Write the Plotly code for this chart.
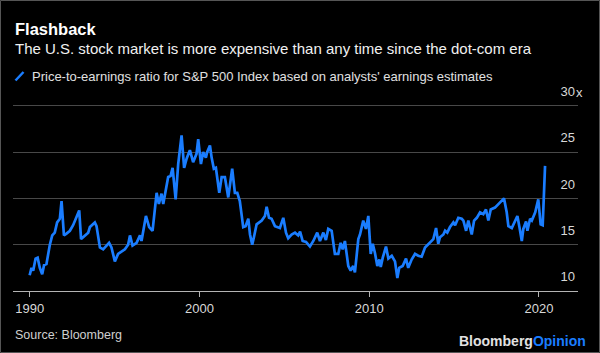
import plotly.graph_objects as go

# ---- data ----
years = [
    1990.00, 1990.11, 1990.21, 1990.35, 1990.47, 1990.60, 1990.74, 1990.85, 1990.99, 1991.19,
    1991.33, 1991.48, 1991.62, 1991.78, 1991.88, 1992.02, 1992.17, 1992.37, 1992.56, 1992.76,
    1992.92, 1993.03, 1993.25, 1993.45, 1993.55, 1993.84, 1993.94, 1994.14, 1994.33, 1994.53,
    1994.68, 1994.82, 1995.02, 1995.21, 1995.42, 1995.61, 1995.80, 1995.91, 1996.06, 1996.30,
    1996.50, 1996.59, 1996.85, 1997.04, 1997.24, 1997.48, 1997.61, 1997.77, 1997.87, 1998.01,
    1998.16, 1998.30, 1998.42, 1998.60, 1998.75, 1998.95, 1999.10, 1999.25, 1999.44, 1999.63,
    1999.83, 1999.93, 2000.09, 2000.22, 2000.38, 2000.46, 2000.62, 2000.72, 2000.85, 2000.97,
    2001.17, 2001.31, 2001.50, 2001.70, 2001.93, 2002.09, 2002.23, 2002.38, 2002.58, 2002.72,
    2002.88, 2002.98, 2003.11, 2003.21, 2003.37, 2003.67, 2003.86, 2003.96, 2004.10, 2004.25,
    2004.45, 2004.74, 2004.94, 2005.10, 2005.23, 2005.43, 2005.63, 2005.82, 2005.93, 2006.08,
    2006.28, 2006.51, 2006.71, 2006.94, 2007.10, 2007.30, 2007.45, 2007.59, 2007.79, 2007.98,
    2008.18, 2008.32, 2008.44, 2008.57, 2008.77, 2008.91, 2009.06, 2009.16, 2009.36, 2009.46,
    2009.65, 2009.81, 2009.95, 2010.09, 2010.21, 2010.34, 2010.48, 2010.60, 2010.68, 2010.80,
    2010.99, 2011.13, 2011.33, 2011.52, 2011.66, 2011.77, 2011.97, 2012.17, 2012.30, 2012.50,
    2012.70, 2012.89, 2013.09, 2013.29, 2013.48, 2013.62, 2013.78, 2013.94, 2014.07, 2014.17,
    2014.37, 2014.47, 2014.60, 2014.76, 2014.96, 2015.06, 2015.25, 2015.45, 2015.55, 2015.71,
    2015.84, 2016.04, 2016.18, 2016.34, 2016.53, 2016.72, 2016.88, 2017.02, 2017.16, 2017.41,
    2017.61, 2017.81, 2017.94, 2018.10, 2018.20, 2018.40, 2018.59, 2018.73, 2018.85, 2018.99,
    2019.08, 2019.24, 2019.32, 2019.48, 2019.58, 2019.78, 2019.96, 2020.10, 2020.22, 2020.36,
]
pe_ratio = [
    11.7, 12.5, 12.2, 13.5, 13.6, 12.5, 11.8, 12.8, 12.9, 15.0,
    16.0, 16.3, 17.4, 17.8, 19.7, 16.0, 16.2, 16.5, 17.1, 17.9,
    18.7, 15.6, 16.0, 16.3, 16.9, 17.4, 17.0, 14.7, 14.5, 14.9,
    15.2, 14.7, 13.2, 14.0, 14.3, 14.5, 15.0, 16.0, 14.9, 15.2,
    16.0, 15.4, 18.1, 16.9, 16.5, 20.6, 19.4, 20.5, 19.4, 21.0,
    22.3, 22.4, 23.3, 19.9, 23.7, 26.8, 23.3, 24.3, 25.2, 23.9,
    24.8, 26.4, 23.7, 25.0, 24.4, 25.0, 25.7, 24.4, 23.2, 23.3,
    20.6, 22.3, 22.3, 20.1, 23.2, 20.6, 20.6, 19.7, 16.9, 17.0,
    17.8, 16.1, 15.0, 15.8, 17.2, 17.6, 18.1, 19.1, 17.9, 17.8,
    17.0, 16.8, 17.9, 16.3, 15.7, 16.1, 16.3, 16.0, 16.4, 15.4,
    15.3, 14.8, 15.4, 16.3, 15.4, 16.3, 15.5, 16.7, 16.5, 14.0,
    14.0, 15.2, 14.5, 15.4, 12.7, 12.2, 12.7, 12.0, 15.6, 16.1,
    17.6, 16.7, 18.1, 14.0, 15.1, 14.1, 12.7, 13.4, 12.6, 13.6,
    14.8, 13.5, 13.8, 13.2, 11.4, 12.5, 12.7, 13.5, 12.5, 13.4,
    14.0, 13.8, 13.7, 14.7, 15.05, 15.4, 15.6, 16.8, 15.1, 15.8,
    16.1, 16.5, 16.3, 16.9, 17.4, 17.1, 17.9, 17.8, 17.6, 16.5,
    17.6, 16.1, 17.6, 17.9, 18.5, 18.3, 18.8, 17.6, 18.8, 19.0,
    19.4, 19.7, 20.0, 18.5, 17.0, 16.8, 17.6, 18.1, 16.9, 15.4,
    16.7, 17.5, 16.5, 17.8, 17.6, 18.5, 19.9, 17.2, 17.1, 23.5,
]
x_tick_vals = [1990, 2000, 2010, 2020]
x_tick_text = ["1990", "2000", "2010", "2020"]
y_tick_vals = [10, 15, 20, 25, 30]
y_tick_text = ["10", "15", "20", "25", "30"]

title = "Flashback"
subtitle = "The U.S. stock market is more expensive than any time since the dot-com era"
legend_label = "Price-to-earnings ratio for S&P 500 Index based on analysts' earnings estimates"
source = "Source: Bloomberg"

# ---- styling ----
W, H = 600, 353
ML, MR, MT, MB = 13, 22, 80, 62
PW, PH = W - ML - MR, H - MT - MB
Y_TOP = 10 + (H - MB - MT) / 9.265   # keeps 5 units = ~46.3 px
BLUE = "#1a7dff"
FONT = "Liberation Sans, Arial, Helvetica, sans-serif"


def px_x(x):
    return (x - ML) / PW


def px_y(y):
    return (H - MB - y) / PH


fig = go.Figure()
fig.add_trace(go.Scatter(
    x=years, y=pe_ratio, mode="lines",
    line=dict(color=BLUE, width=2.7),
    hoverinfo="skip", showlegend=False,
))

fig.update_layout(
    width=W, height=H,
    margin=dict(l=ML, r=MR, t=MT, b=MB, pad=0),
    paper_bgcolor="#000000", plot_bgcolor="#000000",
    font=dict(family=FONT, color="#d8d8d8", size=13),
    showlegend=False,
    xaxis=dict(
        range=[1989.02, 2022.30], tickvals=x_tick_vals, ticktext=x_tick_text,
        showgrid=False, zeroline=False, showline=True, linecolor="#b4b4b4", linewidth=1,
        ticks="outside", ticklen=5, tickcolor="#b4b4b4", tickwidth=1,
        tickfont=dict(size=13, color="#d8d8d8", family=FONT),
    ),
    yaxis=dict(
        range=[10, Y_TOP], tickvals=y_tick_vals, ticktext=y_tick_text,
        side="right", ticklabelposition="inside top", ticks="", ticklabelshift=-5,
        showgrid=True, gridcolor="#484848", gridwidth=1, zeroline=False, showline=False,
        tickfont=dict(size=13, color="#d8d8d8", family=FONT),
    ),
)

ann = []
ann.append(dict(text="<b>" + title + "</b>", x=px_x(13), y=px_y(29), xref="paper", yref="paper",
                xanchor="left", yanchor="middle", showarrow=False,
                font=dict(size=16.5, color="#ffffff", family=FONT)))
ann.append(dict(text=subtitle, x=px_x(13), y=px_y(48.3), xref="paper", yref="paper",
                xanchor="left", yanchor="middle", showarrow=False,
                font=dict(size=15, color="#f0f0f0", family=FONT)))
ann.append(dict(text=legend_label, x=px_x(30), y=px_y(76), xref="paper", yref="paper",
                xanchor="left", yanchor="middle", showarrow=False,
                font=dict(size=13, color="#e0e0e0", family=FONT)))
ann.append(dict(text="x", x=1, y=30, xref="paper", yref="y", xanchor="left", yanchor="middle",
                xshift=-4, yshift=13.4, showarrow=False,
                font=dict(size=13, color="#d8d8d8", family=FONT)))
ann.append(dict(text=source, x=px_x(12.5), y=px_y(335), xref="paper", yref="paper",
                xanchor="left", yanchor="middle", showarrow=False,
                font=dict(size=12.5, color="#cfcfcf", family=FONT)))
ann.append(dict(text="<b>Bloomberg<span style='color:" + BLUE + "'>Opinion</span></b>",
                x=px_x(587.5), y=px_y(340.7), xref="paper", yref="paper",
                xanchor="right", yanchor="middle", showarrow=False,
                font=dict(size=14, color="#e2e2e2", family=FONT)))
fig.update_layout(annotations=ann)

shapes = [
    dict(type="line", xref="paper", yref="paper",
         x0=px_x(15.5), y0=px_y(80.5), x1=px_x(23.5), y1=px_y(72),
         line=dict(color=BLUE, width=2.5)),
    dict(type="rect", xref="paper", yref="paper",
         x0=px_x(0.5), y0=px_y(352.5), x1=px_x(599.5), y1=px_y(0.5),
         line=dict(color="#555555", width=1), layer="above"),
]
fig.update_layout(shapes=shapes)

fig.write_html("out.html")
